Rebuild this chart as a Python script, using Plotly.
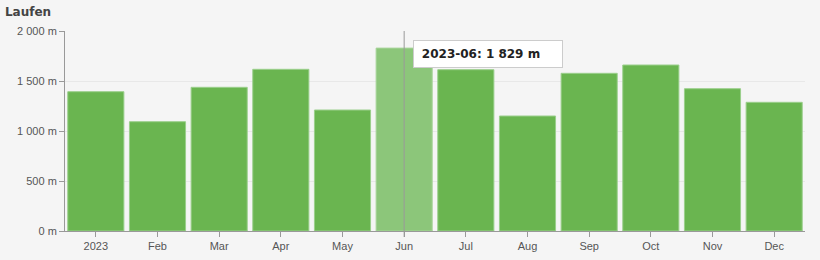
import plotly.graph_objects as go

months = ["2023", "Feb", "Mar", "Apr", "May", "Jun", "Jul", "Aug", "Sep", "Oct", "Nov", "Dec"]
distance_m = [1393, 1093, 1437, 1617, 1210, 1829, 1613, 1150, 1577, 1660, 1423, 1287]
highlight_idx = 5
tooltip_label = "2023-06"
y_ticks = [0, 500, 1000, 1500, 2000]

def fmt(v):
    return f"{v:,}".replace(",", " ") + " m"

colors = ["#8cc67a" if i == highlight_idx else "#6ab550" for i in range(len(months))]
line_colors = ["#a8d49a" if i == highlight_idx else "#9bcf8c" for i in range(len(months))]

fig = go.Figure()
fig.add_trace(go.Bar(
    x=months, y=distance_m,
    marker=dict(color=colors, line=dict(color=line_colors, width=1)),
    hoverinfo="skip",
))

fig.add_shape(type="line", xref="x", yref="paper",
              x0=months[highlight_idx], x1=months[highlight_idx], y0=-0.03, y1=1.0,
              line=dict(color="#999999", width=1))

fig.add_annotation(
    x=months[highlight_idx], y=1910, xref="x", yref="y",
    xanchor="left", yanchor="top", xshift=9,
    text=f"&nbsp;<b>{tooltip_label}: {fmt(distance_m[highlight_idx])}</b>",
    showarrow=False, align="left",
    bgcolor="#ffffff", bordercolor="#cccccc", borderwidth=1, borderpad=4,
    width=140, height=18,
    font=dict(family="DejaVu Sans, Verdana, sans-serif", size=12, color="#222222"),
)

fig.update_layout(
    width=820, height=260,
    margin=dict(l=65, r=15, t=31, b=29, autoexpand=False),
    paper_bgcolor="#f5f5f5", plot_bgcolor="#f5f5f5",
    bargap=0.09,
    showlegend=False,
    title=dict(text="<b>Laufen</b>", x=0.006, xanchor="left", y=0.955, yanchor="middle",
               font=dict(family="DejaVu Sans, Verdana, sans-serif", size=12, color="#444444")),
    font=dict(family="Liberation Sans, Arial, sans-serif", size=11, color="#555555"),
)
fig.update_xaxes(
    type="category", showline=True, linecolor="#999999", linewidth=1,
    ticks="outside", ticklen=5, tickcolor="#999999", showgrid=False, automargin=False,
    tickfont=dict(size=11, color="#555555"),
)
fig.update_yaxes(
    range=[0, 2000], tickvals=y_ticks, ticktext=[fmt(v) for v in y_ticks],
    showline=True, linecolor="#999999", linewidth=1, automargin=False,
    ticks="outside", ticklen=5, tickcolor="#999999",
    showgrid=True, gridcolor="#e8e8e8", gridwidth=1, zeroline=False,
    tickfont=dict(size=11, color="#555555"),
)

fig.write_html("out.html")
